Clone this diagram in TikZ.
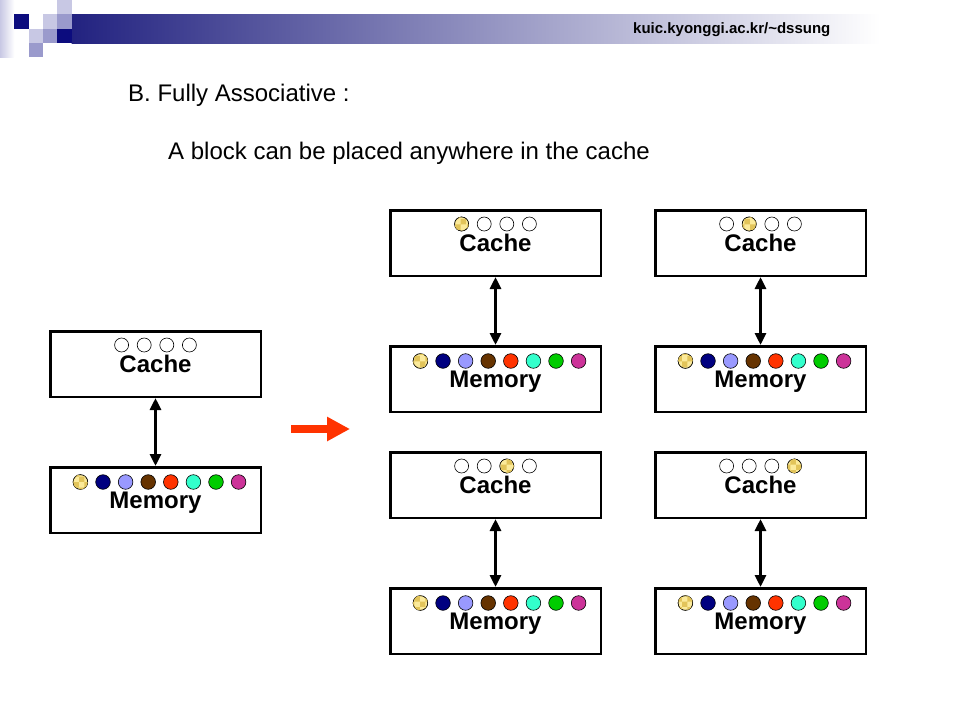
\documentclass[tikz,border=0pt]{standalone}
\usepackage{fontspec}
\setmainfont{Liberation Sans}
\usetikzlibrary{arrows.meta, positioning, calc, patterns}

\definecolor{hdnavy}{HTML}{222280}
\definecolor{sqdark}{HTML}{0C0C7E}
\definecolor{sqmid}{HTML}{9A9ACC}
\definecolor{sqlight}{HTML}{C8C8E4}
\definecolor{yel}{HTML}{FBEA9A}
\definecolor{yeldark}{HTML}{E2C45A}
\definecolor{navyc}{HTML}{000080}
\definecolor{lbluec}{HTML}{9999FF}
\definecolor{brownc}{HTML}{663300}
\definecolor{redc}{HTML}{FF3300}
\definecolor{aquac}{HTML}{33FFCC}
\definecolor{greenc}{HTML}{00CC00}
\definecolor{magc}{HTML}{CC3399}

\begin{document}
\begin{tikzpicture}[x=1pt, y=-1pt,
    box/.style={draw, line width=2.5pt, minimum width=210.5pt, minimum height=65.5pt,
                inner sep=0pt, text depth=0pt, font=\fontsize{24}{28}\selectfont\bfseries},
    txt/.style={anchor=base west, inner sep=0pt},
    slot/.style={draw, line width=0.6pt, fill=white},
    yelslot/.style={slot, fill=yel, postaction={pattern=checkerboard, pattern color=yeldark}},
    arr/.style={{Triangle[length=12pt,width=11pt]}-{Triangle[length=12pt,width=11pt]}, line width=3pt},
    redarr/.style={-{Triangle[length=23pt,width=23pt]}, line width=8pt, redc},
    node distance=68pt and 52pt
]
\useasboundingbox (0,0) rectangle (960,720);

% header
\shade[left color=sqlight, right color=white] (0,0) rectangle (14.3,57.2);
\shade[left color=hdnavy, right color=white] (71.5,14.3) rectangle (880,43);
\foreach \cx/\cy/\cc in {1/1/sqdark, 3/1/sqlight, 4/0/sqlight, 4/1/sqmid,
                         2/2/sqlight, 3/2/sqmid, 4/2/sqdark, 2/3/sqmid}
  \fill[\cc] (14.3*\cx,14.3*\cy) rectangle +(14.3,14.3);
\node[txt, font=\fontsize{15}{18}\selectfont\bfseries] (url) at (633,33)
    {kuic.kyonggi.ac.kr/\textasciitilde dssung};

\node[txt, font=\fontsize{24}{28}\selectfont] (title) at (128,101.5) {B. Fully Associative :};
\node[txt, font=\fontsize{24}{28}\selectfont] (sub) at (168,159.5)
    {A block can be placed anywhere in the cache};

% boxes
\node[box] (c0) at (155.5,364) {Cache};
\node[box, below=of c0] (m0) {Memory};
\node[box] (c1) at (495.5,243) {Cache};
\node[box, below=of c1] (m1) {Memory};
\node[box, right=of c1] (c2) {Cache};
\node[box, below=of c2] (m2) {Memory};
\node[box, below=38pt of m1] (c3) {Cache};
\node[box, below=of c3] (m3) {Memory};
\node[box, below=38pt of m2] (c4) {Cache};
\node[box, below=of c4] (m4) {Memory};

% slots
\foreach \b/\k in {c0/0, c1/1, c2/2, c3/3, c4/4} {
  \foreach \i in {1,...,4}
    \draw[slot] ($(\b.north)+(-56.5+22.6*\i,15)$) circle (7pt);
  \ifnum\k>0
    \draw[yelslot] ($(\b.north)+(-56.5+22.6*\k,15)$) circle (7pt);
  \fi
}
\foreach \b in {m0, m1, m2, m3, m4} {
  \foreach \cc [count=\i from 0] in {yel, navyc, lbluec, brownc, redc, aquac, greenc, magc}
    \draw[slot, fill=\cc] ($(\b.north)+(-75.1+22.6*\i,16)$) circle (7.3pt);
  \draw[yelslot] ($(\b.north)+(-75.1,16)$) circle (7.3pt);
}

\draw[arr] (c0) -- (m0);
\draw[arr] (c1) -- (m1);
\draw[arr] (c2) -- (m2);
\draw[arr] (c3) -- (m3);
\draw[arr] (c4) -- (m4);

\coordinate (r0) at (291,429);
\coordinate (r1) at (350,429);
\draw[redarr] (r0) -- (r1);
\end{tikzpicture}
\end{document}
